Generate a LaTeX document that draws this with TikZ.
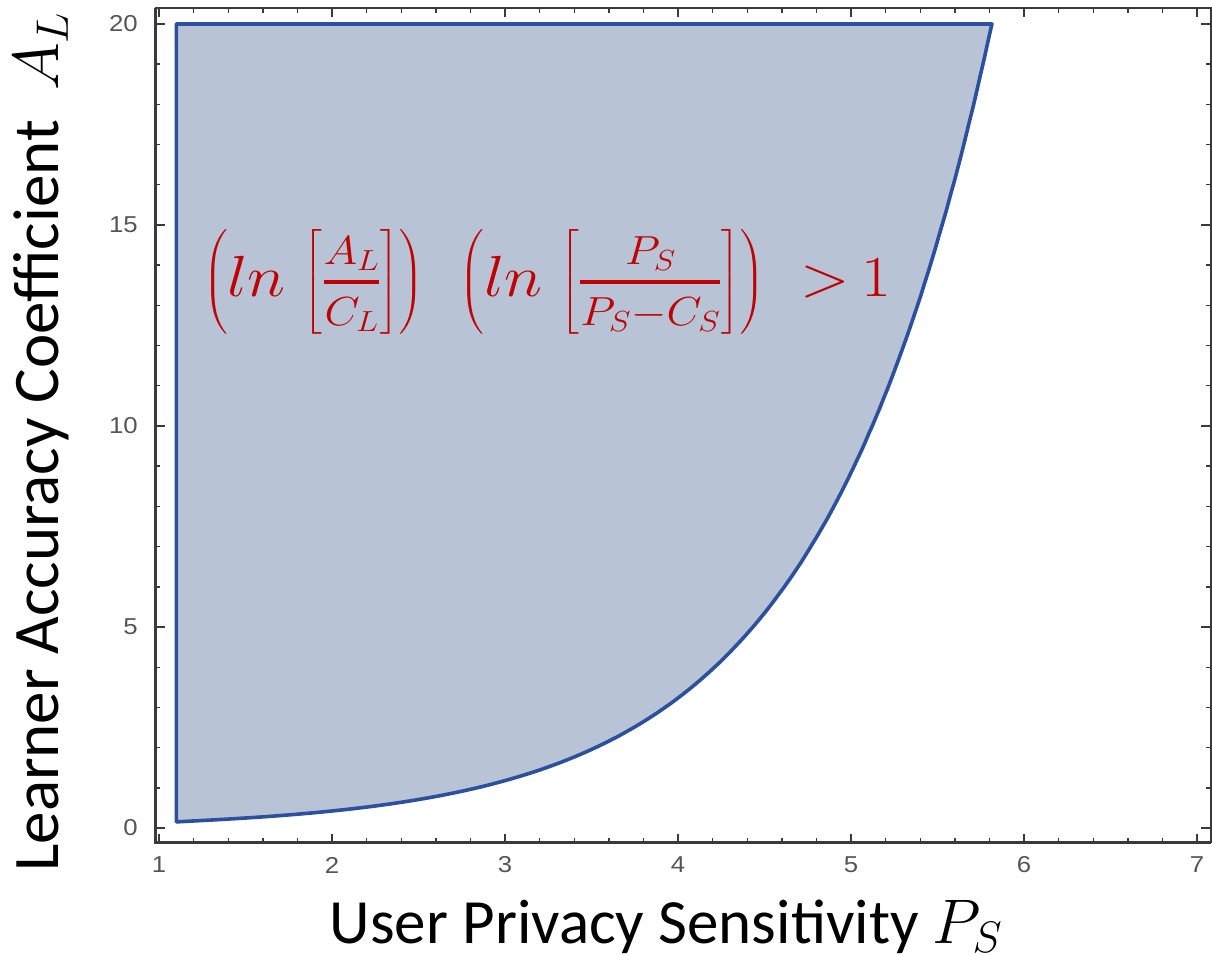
\RequirePackage{fix-cm}
\documentclass[tikz,border=0pt]{standalone}
\usepackage{amsmath}
\usepackage{fontspec}
\setmainfont{Carlito}
\newfontfamily\ticklabelfont{Liberation Sans}

\definecolor{regionfill}{HTML}{B8C4D5}
\definecolor{regionedge}{HTML}{2C4F9E}
\definecolor{formulared}{HTML}{C00000}
\definecolor{framegray}{HTML}{3A3A3A}
\definecolor{ticktext}{HTML}{555555}

% an open fraction: script-size parts set well apart from a heavy bar
\newcommand{\openfrac}[2]{%
  \genfrac{}{}{3.2pt}{1}{\vrule height 0pt depth 13pt width 0pt #1}{\vrule height 39pt depth 0pt width 0pt #2}}
% the inequality that defines the shaded region
\newcommand{\regionineq}{%
  $\Big(ln\;\Big[\openfrac{A_L}{C_L}\Big]\Big)\;\;\Big(ln\;\Big[\openfrac{P_S}{P_S{-}C_S}\Big]\Big)\;\;{>}\,1$}

\tikzset{
  region/.style={fill=regionfill, draw=regionedge, line width=3.6pt, line join=round},
  frameline/.style={draw=framegray, line width=#1},
  majortick/.style={draw=framegray, line width=2pt},
  minortick/.style={draw=framegray, line width=1.4pt},
  ticklabel/.style={text=ticktext, font=\ticklabelfont\fontsize{23}{26}\selectfont, inner sep=0pt, xscale=1.12},
  axistitle/.style={text=black, font=\fontsize{#1}{70}\selectfont, inner sep=0pt},
  formula/.style={text=formulared, font=\fontsize{58}{66}\selectfont, inner sep=0pt, xscale=1.12}
}

\begin{document}
\begin{tikzpicture}[x=1pt,y=1pt]
\useasboundingbox (0,0) rectangle (1212,954);

% data coordinates: P_S along x, A_L along y
\begin{scope}[shift={(-14pt,126pt)}, x=173pt, y=40.2pt]
  % feasible region  ln(A_L/C_L) ln(P_S/(P_S-C_S)) > 1  with C_L = 0.1, C_S = 1
  \path[region] (1.1,20) -- (1.1,0.1517)
    -- plot[domain=1.1:5.815, samples=220, smooth] (\x,{0.1*exp(1/ln(\x/(\x-1)))})
    -- (5.815,20) -- cycle;

  % frame corners
  \coordinate (bl) at (0.977,-0.373);
  \coordinate (br) at (7.081,-0.373);
  \coordinate (tl) at (0.977,20.398);
  \coordinate (tr) at (7.081,20.398);

  % minor ticks on bottom and top
  \foreach \i in {0,...,30} {
    \pgfmathsetmacro{\px}{1+0.2*\i}
    \draw[minortick] (\px,-0.373) -- ++(0,5pt);
    \draw[minortick] (\px,20.398) -- ++(0,-5pt);
  }
  % major ticks and labels on bottom and top
  \foreach \p in {1,...,7} {
    \draw[majortick] (\p,-0.373) -- ++(0,9pt);
    \draw[majortick] (\p,20.398) -- ++(0,-9pt);
    \node[ticklabel] (xl\p) at ([yshift=-22pt]\p,-0.373) {\p};
  }
  % minor ticks on left and right
  \foreach \a in {0,...,20} {
    \draw[minortick] (0.977,\a) -- ++(5pt,0);
    \draw[minortick] (7.081,\a) -- ++(-5pt,0);
  }
  % major ticks and labels on left and right
  \foreach \a in {0,5,10,15,20} {
    \draw[majortick] (0.977,\a) -- ++(10pt,0);
    \draw[majortick] (7.081,\a) -- ++(-10pt,0);
    \node[ticklabel, anchor=east] (yl\a) at ([xshift=-17pt]0.977,\a) {\a};
  }

  % frame
  \draw[frameline=2pt] (tl) -- (tr) -- (br);
  \draw[frameline=3pt] (tl) -- (bl) -- (br);
\end{scope}

\node[formula] (ineq) at (547,672) {\regionineq};

% axis titles
\node[axistitle=63, anchor=base] (xtitle) at (666,11) {User Privacy Sensitivity $P_S$};
\node[axistitle=65, anchor=base, rotate=90] (ytitle) at (58,512) {Learner Accuracy Coefficient\ \ $A_L$};
\end{tikzpicture}
\end{document}
